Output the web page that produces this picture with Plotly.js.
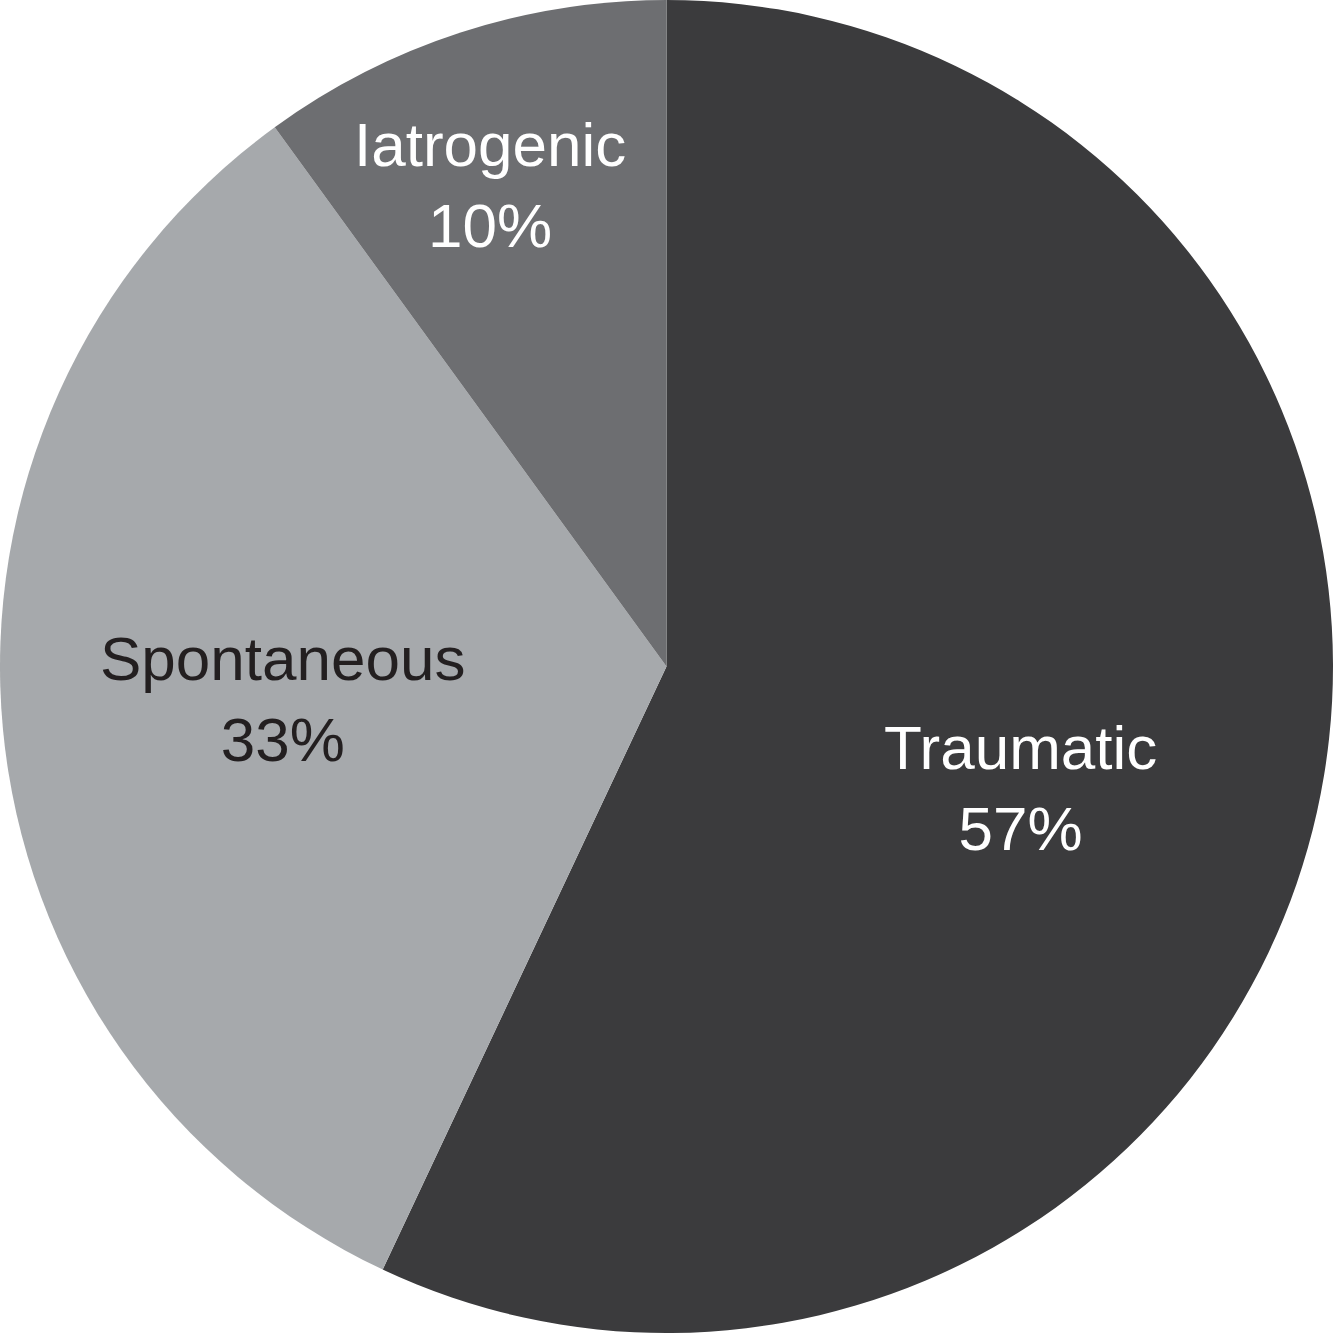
<!DOCTYPE html>
<html>
<head>
<meta charset="utf-8">
<script src="https://cdn.plot.ly/plotly-3.0.1.min.js"></script>
<style>html,body{margin:0;padding:0;background:#fff;}#chart{width:1333px;height:1333px;}</style>
</head>
<body>
<div id="chart"></div>
<script>
const labels = ["Traumatic", "Spontaneous", "Iatrogenic"];
const values = [57, 33, 10];
const colors = ["#3b3b3d", "#a6a9ac", "#6d6e71"];
const textColors = ["#ffffff", "#231f20", "#ffffff"];
const labelPos = [[0.7652, 0.4089], [0.2123, 0.4756], [0.3676, 0.861]];

const annotations = labels.map((l, i) => ({
  text: l + "<br>" + values[i] + "%",
  x: labelPos[i][0], y: labelPos[i][1], xref: "paper", yref: "paper",
  showarrow: false, xanchor: "center", yanchor: "middle",
  font: {family: "Liberation Sans, Arial, sans-serif", size: 62, color: textColors[i]}
}));

Plotly.newPlot("chart", [{
  type: "pie",
  labels: labels,
  values: values,
  sort: false,
  direction: "clockwise",
  rotation: 0,
  marker: {colors: colors, line: {width: 0}},
  textinfo: "none",
  hoverinfo: "label+percent",
  showlegend: false
}], {
  width: 1333, height: 1333,
  margin: {l: 0, r: 0, t: 0, b: 0},
  paper_bgcolor: "#ffffff",
  annotations: annotations
}, {displayModeBar: false, staticPlot: true});
</script>
</body>
</html>
